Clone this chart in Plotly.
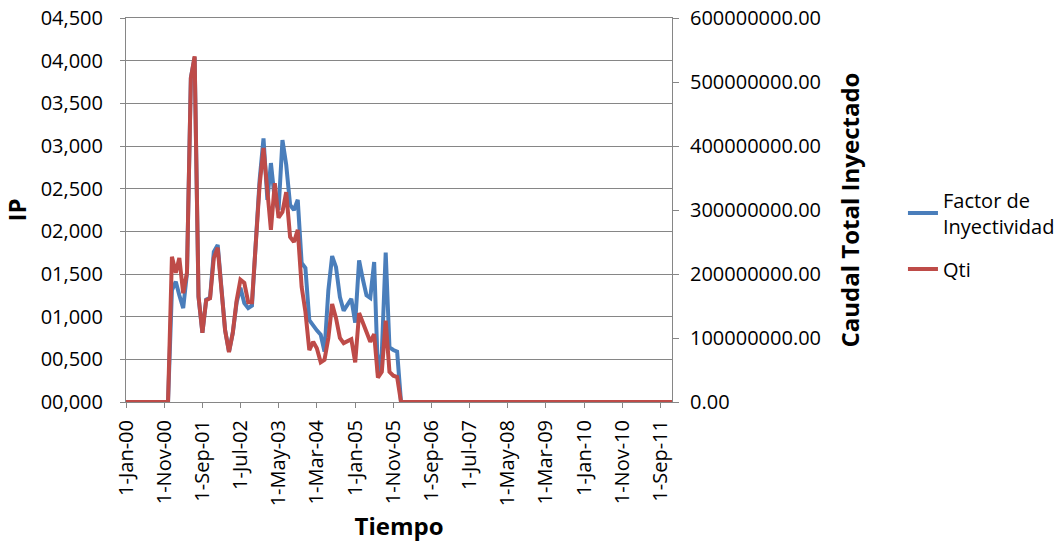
import pandas as pd
import plotly.graph_objects as go

# monthly dates, Jan 2000 .. Dec 2011
fechas = pd.date_range("2000-01-01", periods=144, freq="MS")

# Factor de Inyectividad (IP), one row per year
factor_iny = [
    0, 0, 0, 0, 0, 0, 0, 0, 0, 0, 0, 0,                                  # 2000
    1.31, 1.41, 1.25, 1.10, 1.51, 3.80, 4.04, 1.23, 0.81, 1.20, 1.22, 1.76,  # 2001
    1.84, 1.34, 0.84, 0.59, 0.81, 1.17, 1.34, 1.16, 1.10, 1.13, 1.90, 2.60,  # 2002
    3.09, 2.37, 2.80, 2.37, 2.25, 3.07, 2.78, 2.31, 2.25, 2.37, 1.63, 1.57,  # 2003
    0.96, 0.89, 0.84, 0.79, 0.59, 1.31, 1.71, 1.58, 1.23, 1.07, 1.14, 1.21,  # 2004
    0.93, 1.66, 1.45, 1.25, 1.22, 1.64, 0.34, 0.57, 1.75, 0.64, 0.61, 0.59,  # 2005
    0, 0, 0, 0, 0, 0, 0, 0, 0, 0, 0, 0,                                  # 2006
    0, 0, 0, 0, 0, 0, 0, 0, 0, 0, 0, 0,                                  # 2007
    0, 0, 0, 0, 0, 0, 0, 0, 0, 0, 0, 0,                                  # 2008
    0, 0, 0, 0, 0, 0, 0, 0, 0, 0, 0, 0,                                  # 2009
    0, 0, 0, 0, 0, 0, 0, 0, 0, 0, 0, 0,                                  # 2010
    0, 0, 0, 0, 0, 0, 0, 0, 0, 0, 0, 0,                                  # 2011
]

# Qti - caudal total inyectado, in millions
qti_millones = [
    0, 0, 0, 0, 0, 0, 0, 0, 0, 0, 0, 0,                          # 2000
    227, 202, 225, 170, 202, 506, 540, 165, 108, 159, 162, 225,  # 2001
    241, 175, 112, 78, 108, 159, 191, 186, 156, 156, 253, 339,   # 2002
    397, 331, 269, 342, 288, 297, 328, 258, 250, 269, 180, 141,  # 2003
    81, 94, 84, 62, 66, 100, 153, 131, 100, 92, 95, 98,          # 2004
    62, 139, 125, 108, 94, 106, 38, 47, 127, 47, 41, 39,         # 2005
    0, 0, 0, 0, 0, 0, 0, 0, 0, 0, 0, 0,                          # 2006
    0, 0, 0, 0, 0, 0, 0, 0, 0, 0, 0, 0,                          # 2007
    0, 0, 0, 0, 0, 0, 0, 0, 0, 0, 0, 0,                          # 2008
    0, 0, 0, 0, 0, 0, 0, 0, 0, 0, 0, 0,                          # 2009
    0, 0, 0, 0, 0, 0, 0, 0, 0, 0, 0, 0,                          # 2010
    0, 0, 0, 0, 0, 0, 0, 0, 0, 0, 0, 0,                          # 2011
]
qti = [v * 1e6 for v in qti_millones]

ip_ticks = [0, 0.5, 1.0, 1.5, 2.0, 2.5, 3.0, 3.5, 4.0, 4.5]
ip_labels = [f"{v:06.3f}".replace(".", ",") for v in ip_ticks]

FONT = "Open Sans"
GRAY = "#868686"

fig = go.Figure()
fig.add_trace(go.Scatter(x=fechas, y=factor_iny, name="Factor de<br>Inyectividad",
                         legendgroup="a", mode="lines",
                         line=dict(color="#4A7EBB", width=4)))
fig.add_trace(go.Scatter(x=fechas, y=qti, name="Qti", yaxis="y2",
                         legendgroup="b", mode="lines",
                         line=dict(color="#BE4B48", width=4)))

fig.update_layout(
    width=1062, height=542,
    margin=dict(l=126, r=390, t=18, b=140, autoexpand=False),
    paper_bgcolor="white", plot_bgcolor="white",
    font=dict(family=FONT, size=20, color="#000000"),
    xaxis=dict(
        range=["2000-01-01", "2011-12-01"],
        tick0="2000-01-01", dtick="M10", tickformat="%-d-%b-%y",
        tickangle=-90, showgrid=False, showline=True, linecolor=GRAY,
        mirror=True,
        ticks="outside", ticklen=5, tickcolor=GRAY, ticklabelstandoff=4,
        title=dict(text="<b>Tiempo</b>", standoff=14),
    ),
    yaxis=dict(
        range=[0, 4.5], tickvals=ip_ticks, ticktext=ip_labels,
        showgrid=True, gridcolor=GRAY, showline=True, linecolor=GRAY,
        ticks="outside", ticklen=5, tickcolor=GRAY, zeroline=False,
        ticklabelstandoff=13, ticklabeloverflow="allow",
        title=dict(text="<b>IP</b>", standoff=24),
    ),
    yaxis2=dict(
        overlaying="y", side="right", range=[0, 600e6], dtick=100e6,
        tickformat=".2f", showgrid=False, showline=True, linecolor=GRAY,
        ticks="outside", ticklen=6, tickcolor=GRAY, zeroline=False,
        ticklabelstandoff=7, ticklabeloverflow="allow",
        title=dict(text="<b>Caudal Total Inyectado</b>", standoff=22),
    ),
    legend=dict(x=1.423, y=0.577, xanchor="left", yanchor="top",
                bgcolor="rgba(0,0,0,0)", font=dict(size=20),
                tracegroupgap=14),
    showlegend=True,
)

# drop the browser's default body margin so the figure fills the window
fig.write_html("out.html", config={"displayModeBar": False},
               post_script="document.body.style.margin = '0';")
